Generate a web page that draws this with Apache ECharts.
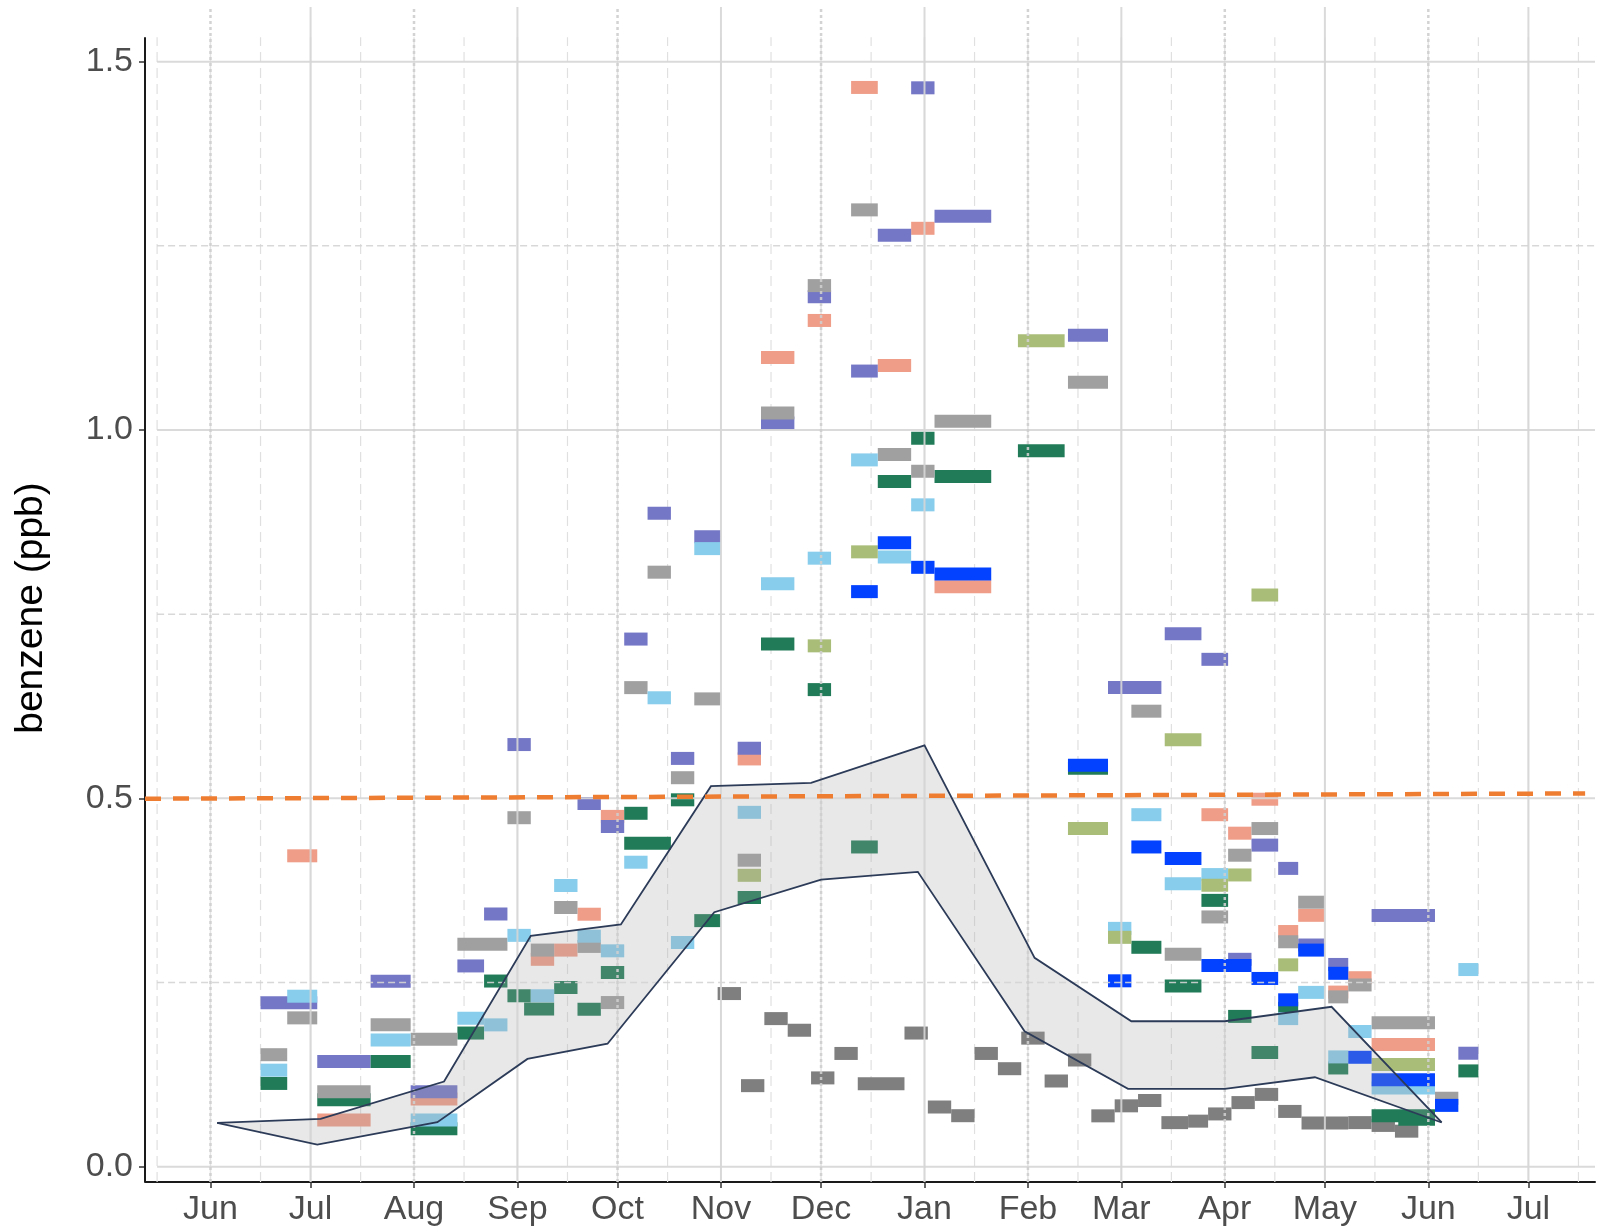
<!DOCTYPE html>
<html>
<head>
<meta charset="utf-8">
<script src="https://cdn.jsdelivr.net/npm/echarts@6/dist/echarts.min.js"></script>
<style>
  html, body { margin: 0; padding: 0; background: #ffffff; }
  #chart { width: 1601px; height: 1232px; }
</style>
</head>
<body>
<div id="chart"></div>
<script>
// ---------------- axis ticks ----------------
const MONTH_NAMES = ['Jan','Feb','Mar','Apr','May','Jun','Jul','Aug','Sep','Oct','Nov','Dec'];
const MONTH_STARTS = ['2018-06-01','2018-07-01','2018-08-01','2018-09-01','2018-10-01','2018-11-01',
  '2018-12-01','2019-01-01','2019-02-01','2019-03-01','2019-04-01','2019-05-01','2019-06-01','2019-07-01'];
const MID_MONTHS = ['2018-05-16','2018-06-16','2018-07-16','2018-08-16','2018-09-16','2018-10-16','2018-11-16',
  '2018-12-16','2019-01-16','2019-02-16','2019-03-16','2019-04-16','2019-05-16','2019-06-16','2019-07-16'];
const Y_TICKS = [0, 0.5, 1.0, 1.5];
const Y_MINOR = [0.25, 0.75, 1.25];

// ---------------- sampling periods: [start, end, benzene ppb] ----------------
const siteSalmon = [
  ['2018-06-24','2018-07-03',0.4220], ['2018-07-03','2018-07-19',0.0635], ['2018-07-31','2018-08-14',0.0920],
  ['2018-09-05','2018-09-12',0.2815], ['2018-09-12','2018-09-19',0.2940], ['2018-09-19','2018-09-26',0.3427],
  ['2018-09-26','2018-10-03',0.4755], ['2018-11-06','2018-11-13',0.5535], ['2018-11-13','2018-11-23',1.0985],
  ['2018-11-27','2018-12-04',1.1487], ['2018-12-10','2018-12-18',1.4650], ['2018-12-18','2018-12-28',1.0875],
  ['2018-12-28','2019-01-04',1.2738], ['2019-01-04','2019-01-21',0.7871], ['2019-03-25','2019-04-02',0.4778],
  ['2019-04-02','2019-04-09',0.4527], ['2019-04-09','2019-04-17',0.4988], ['2019-04-17','2019-04-23',0.3192],
  ['2019-04-23','2019-05-01',0.3412], ['2019-05-02','2019-05-08',0.2370], ['2019-05-08','2019-05-15',0.2565],
  ['2019-05-15','2019-06-03',0.1660]
];
const sitePurple = [
  ['2018-06-16','2018-07-03',0.2224], ['2018-07-03','2018-07-19',0.1427], ['2018-07-19','2018-07-31',0.2518],
  ['2018-07-31','2018-08-14',0.1017], ['2018-08-14','2018-08-22',0.2725], ['2018-08-22','2018-08-29',0.3430],
  ['2018-08-29','2018-09-05',0.5730], ['2018-09-19','2018-09-26',0.4930], ['2018-09-26','2018-10-03',0.4618],
  ['2018-10-03','2018-10-10',0.7162], ['2018-10-10','2018-10-17',0.8870], ['2018-10-17','2018-10-24',0.5542],
  ['2018-10-24','2018-11-01',0.8551], ['2018-11-06','2018-11-13',0.5680], ['2018-11-13','2018-11-23',1.0095],
  ['2018-11-27','2018-12-04',1.1809], ['2018-12-10','2018-12-18',1.0800], ['2018-12-18','2018-12-28',1.2643],
  ['2018-12-28','2019-01-04',1.4645], ['2019-01-04','2019-01-21',1.2900], ['2019-02-13','2019-02-25',1.1285],
  ['2019-02-25','2019-03-13',0.6503], ['2019-03-14','2019-03-25',0.7233], ['2019-03-25','2019-04-02',0.6887],
  ['2019-04-02','2019-04-09',0.2815], ['2019-04-09','2019-04-17',0.4365], ['2019-04-17','2019-04-23',0.4049],
  ['2019-04-23','2019-05-01',0.3009], ['2019-05-02','2019-05-08',0.2745], ['2019-05-15','2019-06-03',0.3410],
  ['2019-06-10','2019-06-16',0.1540]
];
const siteGrey = [
  ['2018-06-16','2018-06-24',0.1520], ['2018-06-24','2018-07-03',0.2020], ['2018-07-03','2018-07-19',0.1017],
  ['2018-07-19','2018-07-31',0.1925], ['2018-07-31','2018-08-14',0.1730], ['2018-08-14','2018-08-29',0.3020],
  ['2018-08-29','2018-09-05',0.4737], ['2018-09-05','2018-09-12',0.2940], ['2018-09-12','2018-09-19',0.3518],
  ['2018-09-19','2018-09-26',0.2990], ['2018-09-26','2018-10-03',0.2228], ['2018-10-03','2018-10-10',0.6503],
  ['2018-10-10','2018-10-17',0.8070], ['2018-10-17','2018-10-24',0.5280], ['2018-10-24','2018-11-01',0.6350],
  ['2018-11-06','2018-11-13',0.4160], ['2018-11-13','2018-11-23',1.0230], ['2018-11-27','2018-12-04',1.1960],
  ['2018-12-10','2018-12-18',1.2988], ['2018-12-18','2018-12-28',0.9666], ['2018-12-28','2019-01-04',0.9440],
  ['2019-01-04','2019-01-21',1.0118], ['2019-02-13','2019-02-25',1.0647], ['2019-03-04','2019-03-13',0.6183],
  ['2019-03-14','2019-03-25',0.2884], ['2019-03-25','2019-04-02',0.3390], ['2019-04-02','2019-04-09',0.4228],
  ['2019-04-09','2019-04-17',0.4590], ['2019-04-17','2019-04-23',0.3053], ['2019-04-23','2019-05-01',0.3590],
  ['2019-05-02','2019-05-08',0.2305], ['2019-05-08','2019-05-15',0.2467], ['2019-05-15','2019-06-03',0.1953],
  ['2019-06-03','2019-06-10',0.0929]
];
const siteDarkGrey = [
  ['2018-10-31','2018-11-07',0.2350], ['2018-11-07','2018-11-14',0.1100], ['2018-11-14','2018-11-21',0.2010],
  ['2018-11-21','2018-11-28',0.1852], ['2018-11-28','2018-12-05',0.1205], ['2018-12-05','2018-12-12',0.1537],
  ['2018-12-12','2018-12-26',0.1127], ['2018-12-26','2019-01-02',0.1814], ['2019-01-02','2019-01-09',0.0810],
  ['2019-01-09','2019-01-16',0.0692], ['2019-01-16','2019-01-23',0.1537], ['2019-01-23','2019-01-30',0.1330],
  ['2019-01-30','2019-02-06',0.1745], ['2019-02-06','2019-02-13',0.1163], ['2019-02-13','2019-02-20',0.1448],
  ['2019-02-20','2019-02-27',0.0690], ['2019-02-27','2019-03-06',0.0826], ['2019-03-06','2019-03-13',0.0898],
  ['2019-03-13','2019-03-21',0.0598], ['2019-03-21','2019-03-27',0.0618], ['2019-03-27','2019-04-03',0.0716],
  ['2019-04-03','2019-04-10',0.0870], ['2019-04-10','2019-04-17',0.0981], ['2019-04-17','2019-04-24',0.0750],
  ['2019-04-24','2019-05-08',0.0592], ['2019-05-08','2019-05-15',0.0598], ['2019-05-15','2019-05-22',0.0560],
  ['2019-05-22','2019-05-29',0.0482]
];
const siteSky = [
  ['2018-06-16','2018-06-24',0.1310], ['2018-06-24','2018-07-03',0.2314], ['2018-07-19','2018-07-31',0.1720],
  ['2018-07-31','2018-08-14',0.0635], ['2018-08-14','2018-08-22',0.2015], ['2018-08-22','2018-08-29',0.1925],
  ['2018-08-29','2018-09-05',0.3140], ['2018-09-05','2018-09-12',0.2320], ['2018-09-12','2018-09-19',0.3817],
  ['2018-09-19','2018-09-26',0.3129], ['2018-09-26','2018-10-03',0.2930], ['2018-10-03','2018-10-10',0.4133],
  ['2018-10-10','2018-10-17',0.6365], ['2018-10-17','2018-10-24',0.3043], ['2018-10-24','2018-11-01',0.8390],
  ['2018-11-06','2018-11-13',0.4810], ['2018-11-13','2018-11-23',0.7912], ['2018-11-27','2018-12-04',0.8260],
  ['2018-12-10','2018-12-18',0.9594], ['2018-12-18','2018-12-28',0.8277], ['2018-12-28','2019-01-04',0.8984],
  ['2019-02-25','2019-03-04',0.3235], ['2019-03-04','2019-03-13',0.4778], ['2019-03-14','2019-03-25',0.3841],
  ['2019-03-25','2019-04-02',0.3965], ['2019-04-17','2019-04-23',0.2010], ['2019-04-23','2019-05-01',0.2366],
  ['2019-05-02','2019-05-08',0.1490], ['2019-05-08','2019-05-15',0.1835], ['2019-05-15','2019-06-03',0.1067],
  ['2019-06-10','2019-06-16',0.2676]
];
const siteGreen = [
  ['2018-06-16','2018-06-24',0.1130], ['2018-07-03','2018-07-19',0.0910], ['2018-07-19','2018-07-31',0.1427],
  ['2018-07-31','2018-08-14',0.0515], ['2018-08-14','2018-08-22',0.1814], ['2018-08-22','2018-08-29',0.2520],
  ['2018-08-29','2018-09-05',0.2320], ['2018-09-03','2018-09-12',0.2140], ['2018-09-12','2018-09-19',0.2432],
  ['2018-09-19','2018-09-26',0.2137], ['2018-09-26','2018-10-03',0.2636], ['2018-10-03','2018-10-17',0.4390],
  ['2018-10-03','2018-10-10',0.4797], ['2018-10-17','2018-10-24',0.4980], ['2018-10-24','2018-11-01',0.3340],
  ['2018-11-06','2018-11-13',0.3654], ['2018-11-13','2018-11-23',0.7095], ['2018-11-27','2018-12-04',0.6476],
  ['2018-12-10','2018-12-18',0.4340], ['2018-12-18','2018-12-28',0.9300], ['2018-12-28','2019-01-04',0.9888],
  ['2019-01-04','2019-01-21',0.9370], ['2019-01-29','2019-02-12',0.9720], ['2019-02-13','2019-02-25',0.5407],
  ['2019-03-04','2019-03-13',0.2978], ['2019-03-14','2019-03-25',0.2454], ['2019-03-25','2019-04-02',0.3615],
  ['2019-04-02','2019-04-09',0.2040], ['2019-04-09','2019-04-17',0.1550], ['2019-04-17','2019-04-23',0.2150],
  ['2019-05-02','2019-05-08',0.1340], ['2019-05-15','2019-06-03',0.0690], ['2019-05-23','2019-06-03',0.0645],
  ['2019-06-10','2019-06-16',0.1300]
];
const siteOlive = [
  ['2018-11-06','2018-11-13',0.3955], ['2018-11-27','2018-12-04',0.7070], ['2018-12-10','2018-12-18',0.8346],
  ['2019-01-29','2019-02-12',1.1212], ['2019-02-13','2019-02-25',0.4590], ['2019-02-25','2019-03-04',0.3113],
  ['2019-03-14','2019-03-25',0.5795], ['2019-03-25','2019-04-02',0.3820], ['2019-04-02','2019-04-09',0.3960],
  ['2019-04-09','2019-04-17',0.7760], ['2019-04-17','2019-04-23',0.2740], ['2019-05-15','2019-06-03',0.1386]
];
const siteBlue = [
  ['2018-12-10','2018-12-18',0.7806], ['2018-12-18','2018-12-28',0.8470], ['2018-12-28','2019-01-04',0.8136],
  ['2019-01-04','2019-01-21',0.8045], ['2019-02-13','2019-02-25',0.5448], ['2019-02-25','2019-03-04',0.2523],
  ['2019-03-04','2019-03-13',0.4340], ['2019-03-14','2019-03-25',0.4185], ['2019-03-25','2019-04-09',0.2730],
  ['2019-04-09','2019-04-17',0.2555], ['2019-04-17','2019-04-23',0.2265], ['2019-04-23','2019-05-01',0.2940],
  ['2019-05-02','2019-05-08',0.2625], ['2019-05-08','2019-05-15',0.1485], ['2019-05-15','2019-06-03',0.1180],
  ['2019-06-03','2019-06-10',0.0832]
];

// ---------------- background band (upper and lower envelopes) ----------------
const bandUpperDates = ['2018-06-03','2018-07-04','2018-08-10','2018-09-05','2018-10-02','2018-10-29','2018-11-28',
  '2019-01-01','2019-02-03','2019-03-04','2019-04-01','2019-05-03','2019-06-05'];
const bandUpper = [0.0595, 0.0650, 0.1156, 0.3133, 0.3288, 0.5165, 0.5210, 0.5718, 0.2835, 0.1974, 0.1974, 0.2170, 0.0600];
const bandLowerDates = ['2018-06-03','2018-07-03','2018-08-08','2018-09-04','2018-09-28','2018-10-30','2018-12-01',
  '2018-12-30','2019-01-31','2019-03-03','2019-04-01','2019-04-28','2019-06-05'];
const bandLower = [0.0595, 0.0300, 0.0603, 0.1463, 0.1669, 0.3454, 0.3898, 0.4002, 0.1839, 0.1056, 0.1056, 0.1214, 0.0600];

// ---------------- reference level line ----------------
const refLineDates = ['2018-05-12 09:00', '2019-07-18 00:00'];
const refLineValues = [0.4995, 0.5066];

// ---------------- helpers ----------------
function toTime(s) {
  const m = s.match(/^(\d{4})-(\d{2})-(\d{2})(?:[ T](\d{2}):(\d{2}))?$/);
  return new Date(+m[1], +m[2] - 1, +m[3], m[4] ? +m[4] : 0, m[5] ? +m[5] : 0).getTime();
}
const X_MIN = toTime('2018-05-12 09:00');
const X_MAX = toTime('2019-07-20 23:00');
const Y_MIN = -0.0208;
const Y_MAX = 1.5742;
const PANEL_TOP = 1.533;
const BAR_H = 13;
const FONT = '"Liberation Sans", Arial, sans-serif';

function barSeries(name, color, rows, z) {
  return {
    type: 'custom', name: name, z: z, silent: true, animation: false,
    data: rows.map(r => [toTime(r[0]), toTime(r[1]), r[2]]),
    encode: { x: [0, 1], y: 2 },
    renderItem: function (params, api) {
      const a = api.coord([api.value(0), api.value(2)]);
      const b = api.coord([api.value(1), api.value(2)]);
      return {
        type: 'rect',
        shape: { x: a[0], y: a[1] - BAR_H / 2, width: b[0] - a[0], height: BAR_H },
        style: { fill: color }
      };
    }
  };
}

function segSeries(name, segs, style, z) {
  return {
    type: 'custom', name: name, z: z, silent: true, animation: false, clip: false,
    data: segs,
    encode: { x: [0, 2], y: [1, 3] },
    renderItem: function (params, api) {
      const a = api.coord([api.value(0), api.value(1)]);
      const b = api.coord([api.value(2), api.value(3)]);
      return { type: 'line', shape: { x1: a[0], y1: a[1], x2: b[0], y2: b[1] }, style: style };
    }
  };
}

const monthTs = MONTH_STARTS.map(toTime);
const vPanel = monthTs.map(t => [t, Y_MIN, t, PANEL_TOP]);
const vSolid = monthTs.filter((t, i) => i % 2 === 1).map(t => [t, Y_MIN, t, Y_MAX]);
const vDotted = monthTs.filter((t, i) => i % 2 === 0).map(t => [t, Y_MIN, t, Y_MAX]);
const vMinor = MID_MONTHS.map(toTime).map(t => [t, Y_MIN, t, PANEL_TOP]);
const hStart = toTime('2018-05-16');
const hMajor = Y_TICKS.map(v => [hStart, v, X_MAX, v]);
const hMinor = Y_MINOR.map(v => [hStart, v, X_MAX, v]);
const yAxisLine = [[X_MIN, Y_MIN, X_MIN, PANEL_TOP]];

function bandPoints(api, dates, vals) {
  return dates.map((d, i) => api.coord([toTime(d), vals[i]]));
}

const chart = echarts.init(document.getElementById('chart'), null, { renderer: 'canvas' });

chart.setOption({
  animation: false,
  backgroundColor: '#ffffff',
  grid: { left: 145, right: 6, top: 7, bottom: 50 },
  xAxis: {
    type: 'value', min: X_MIN, max: X_MAX, scale: true,
    axisLine: { show: true, onZero: false, lineStyle: { color: '#1a1a1a', width: 2 } },
    axisTick: { show: true, customValues: monthTs, length: 6, lineStyle: { color: '#333333', width: 1.5 } },
    axisLabel: {
      customValues: monthTs,
      formatter: function (v) { return MONTH_NAMES[new Date(v).getMonth()]; },
      fontSize: 34, color: '#4d4d4d', fontFamily: FONT, margin: 11
    },
    splitLine: { show: false }
  },
  yAxis: {
    type: 'value', min: Y_MIN, max: Y_MAX,
    axisLine: { show: false },
    axisTick: { show: true, customValues: Y_TICKS, length: 6, lineStyle: { color: '#333333', width: 1.5 } },
    axisLabel: {
      customValues: Y_TICKS,
      formatter: function (v) { return v.toFixed(1); },
      fontSize: 34, color: '#4d4d4d', fontFamily: FONT, margin: 12
    },
    splitLine: { show: false }
  },
  graphic: [{
    type: 'text', x: 31, y: 608, rotation: Math.PI / 2,
    style: { text: 'benzene (ppb)', font: '39px ' + FONT, fill: '#000000', align: 'center', verticalAlign: 'middle' }
  }],
  series: [
    segSeries('minor-v', vMinor, { stroke: '#e0e0e0', lineWidth: 1.2, lineDash: [10, 6] }, 1),
    segSeries('panel-v', vPanel, { stroke: '#e4e4e4', lineWidth: 1.5 }, 1),
    barSeries('site D', '#7f7f7f', siteDarkGrey, 2),
    barSeries('site S', '#ef9d88', siteSalmon, 3),
    barSeries('site P', '#7477c6', sitePurple, 4),
    barSeries('site N', '#217b58', siteGreen, 5),
    barSeries('site G', '#a0a0a0', siteGrey, 6),
    barSeries('site K', '#88cdeb', siteSky, 7),
    barSeries('site O', '#a9bd79', siteOlive, 8),
    barSeries('site B', '#0342ff', siteBlue, 9),
    {
      type: 'custom', name: 'band', z: 10, silent: true, animation: false, clip: false,
      data: [[toTime(bandUpperDates[0]), bandUpper[0]]],
      encode: { x: 0, y: 1 },
      renderItem: function (params, api) {
        const up = bandPoints(api, bandUpperDates, bandUpper);
        const lo = bandPoints(api, bandLowerDates, bandLower);
        return { type: 'polygon', shape: { points: up.concat(lo.slice().reverse()) }, style: { fill: 'rgba(163,163,163,0.25)' } };
      }
    },
    segSeries('major-h', hMajor, { stroke: 'rgba(214,214,214,0.9)', lineWidth: 2 }, 11),
    segSeries('minor-h', hMinor, { stroke: 'rgba(212,212,212,0.9)', lineWidth: 1.5, lineDash: [7, 4] }, 11),
    segSeries('month-v', vSolid, { stroke: 'rgba(214,214,214,0.9)', lineWidth: 2 }, 11),
    segSeries('month-dot', vDotted, { stroke: 'rgba(206,206,206,0.9)', lineWidth: 2.5, lineDash: [3, 3] }, 11),
    {
      type: 'custom', name: 'band-edges', z: 12, silent: true, animation: false, clip: false,
      data: [[toTime(bandUpperDates[0]), bandUpper[0]]],
      encode: { x: 0, y: 1 },
      renderItem: function (params, api) {
        const up = bandPoints(api, bandUpperDates, bandUpper);
        const lo = bandPoints(api, bandLowerDates, bandLower);
        return {
          type: 'group', children: [
            { type: 'polyline', shape: { points: up }, style: { stroke: '#2c3b58', lineWidth: 1.8, fill: null } },
            { type: 'polyline', shape: { points: lo }, style: { stroke: '#2c3b58', lineWidth: 1.8, fill: null } }
          ]
        };
      }
    },
    segSeries('y-axis-line', yAxisLine, { stroke: '#1a1a1a', lineWidth: 2 }, 13),
    {
      type: 'line', name: 'level', z: 14, silent: true, animation: false,
      symbol: 'none',
      data: refLineDates.map((d, i) => [toTime(d), refLineValues[i]]),
      lineStyle: { color: '#ee7d31', width: 4.5, type: [16, 12] }
    }
  ]
});
</script>
</body>
</html>
